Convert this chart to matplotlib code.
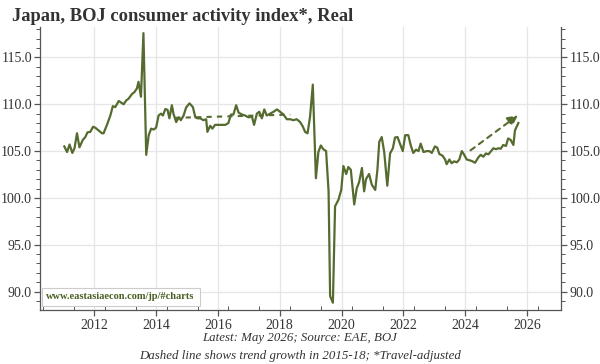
import matplotlib
matplotlib.use("Agg")
from matplotlib import pyplot, ticker

# decimal years as they sit on the chart's x axis, and index values
years = [2011.03, 2011.12, 2011.20, 2011.29, 2011.36, 2011.44, 2011.52, 2011.63, 2011.71, 2011.78,
         2011.87, 2011.96, 2012.03, 2012.14, 2012.25, 2012.30, 2012.41, 2012.52, 2012.60, 2012.68,
         2012.79, 2012.86, 2012.95, 2013.03, 2013.11, 2013.22, 2013.30, 2013.38, 2013.43, 2013.51,
         2013.59, 2013.68, 2013.76, 2013.84, 2013.92, 2014.00, 2014.08, 2014.16, 2014.22, 2014.30,
         2014.37, 2014.43, 2014.51, 2014.56, 2014.65, 2014.73, 2014.80, 2014.89, 2014.97, 2015.08,
         2015.19, 2015.27, 2015.34, 2015.43, 2015.53, 2015.62, 2015.66, 2015.75, 2015.82, 2015.91,
         2016.02, 2016.13, 2016.24, 2016.34, 2016.42, 2016.50, 2016.59, 2016.67, 2016.78, 2016.88,
         2016.99, 2017.10, 2017.17, 2017.26, 2017.34, 2017.42, 2017.50, 2017.58, 2017.69, 2017.80,
         2017.91, 2018.01, 2018.12, 2018.23, 2018.34, 2018.44, 2018.55, 2018.66, 2018.75, 2018.82,
         2018.90, 2018.98, 2019.07, 2019.17, 2019.25, 2019.33, 2019.41, 2019.50, 2019.58, 2019.63,
         2019.72, 2019.79, 2019.90, 2019.99, 2020.06, 2020.15, 2020.22, 2020.30, 2020.41, 2020.49,
         2020.57, 2020.66, 2020.73, 2020.79, 2020.89, 2020.98, 2021.09, 2021.16, 2021.22, 2021.30,
         2021.38, 2021.48, 2021.57, 2021.66, 2021.73, 2021.81, 2021.89, 2021.98, 2022.06, 2022.16,
         2022.24, 2022.32, 2022.41, 2022.49, 2022.56, 2022.65, 2022.76, 2022.84, 2022.92, 2023.02,
         2023.10, 2023.16, 2023.27, 2023.35, 2023.40, 2023.49, 2023.56, 2023.64, 2023.73, 2023.81,
         2023.89, 2023.96, 2024.05, 2024.16, 2024.24, 2024.32, 2024.42, 2024.50, 2024.59, 2024.67,
         2024.75, 2024.84, 2024.91, 2025.00, 2025.07, 2025.15, 2025.23, 2025.32, 2025.39, 2025.47,
         2025.56, 2025.61, 2025.67, 2025.72]
index = [105.5, 104.9, 105.7, 104.8, 105.3, 106.9, 105.4, 106.2, 106.5, 107.0,
         107.05, 107.6, 107.5, 107.2, 106.9, 106.9, 107.8, 108.8, 109.8, 109.7,
         110.35, 110.2, 110.0, 110.4, 110.6, 111.1, 111.3, 111.7, 112.4, 110.8,
         117.6, 104.6, 106.7, 107.4, 107.3, 107.5, 108.8, 109.0, 108.8, 109.5,
         109.4, 108.5, 109.9, 109.0, 108.1, 108.6, 108.3, 108.8, 109.65, 110.1,
         109.7, 108.6, 108.5, 108.5, 108.3, 108.4, 107.05, 107.7, 107.4, 107.8,
         107.8, 107.8, 107.8, 108.0, 108.9, 108.9, 109.9, 109.1, 108.9, 108.8,
         108.6, 108.7, 107.8, 109.0, 109.2, 108.5, 109.45, 108.8, 109.0, 109.2,
         109.45, 109.2, 108.9, 108.4, 108.4, 108.3, 108.4, 108.1, 107.6, 107.05,
         106.9, 108.65, 112.1, 102.1, 104.9, 105.6, 105.2, 105.0, 100.7, 89.5,
         88.8, 99.1, 99.8, 100.85, 103.4, 102.55, 103.3, 103.0, 99.3, 101.0,
         101.7, 103.2, 100.7, 102.0, 102.55, 101.4, 100.85, 103.0, 106.0, 106.5,
         104.9, 101.3, 104.75, 105.3, 106.45, 106.5, 105.8, 105.0, 106.7, 106.7,
         105.6, 104.8, 105.15, 105.0, 105.8, 104.9, 105.0, 105.0, 104.8, 105.5,
         105.35, 104.7, 104.5, 104.1, 103.6, 104.1, 103.7, 103.9, 103.8, 104.1,
         105.0, 104.65, 104.1, 104.0, 103.9, 103.75, 104.3, 104.6, 104.4, 104.75,
         104.65, 105.0, 105.3, 105.2, 105.3, 105.25, 105.65, 105.55, 106.35, 106.2,
         105.65, 107.2, 107.65, 108.0]

# trend lines (start, end)
trend1_years = [2014.62, 2018.34]
trend1_values = [108.55, 108.9]
trend2_years = [2024.10, 2025.78]
trend2_values = [104.9, 109.0]

xticks = [2012, 2014, 2016, 2018, 2020, 2022, 2024, 2026]
yticks = [90, 95, 100, 105, 110, 115]

green = "#556b2f"
textgray = "#333333"

pyplot.rcParams["font.family"] = ["Liberation Serif", "DejaVu Serif"]
fig = pyplot.figure(figsize=(6, 3.64), dpi=100)
ax = fig.add_axes([0.067, 0.149, 0.868, 0.778])

ax.plot(years, index, color=green, lw=1.6, zorder=3)
ax.plot(trend1_years, trend1_values, color=green, lw=1.5, ls=(0, (2.5, 2.5)), zorder=2)
ax.annotate("", xy=(trend2_years[1], trend2_values[1]), xytext=(trend2_years[0], trend2_values[0]),
            arrowprops=dict(arrowstyle="-|>,head_length=0.6,head_width=0.3", color=green,
                            lw=1.5, ls=(0, (2.5, 2.5))), zorder=2)

ax.set_xlim(2010.25, 2027.1)
ax.set_ylim(88.05, 118.3)

ax.set_xticks(xticks)
ax.set_xticks([y + 0.34 for y in range(2010, 2027)], minor=True)
ax.set_yticks(yticks)
ax.yaxis.set_minor_locator(ticker.MultipleLocator(1))
ax.yaxis.set_major_formatter(ticker.FormatStrFormatter("%.1f"))

ax.grid(True, which="major", color="#e6e6e6", lw=0.9, zorder=0)
ax.set_axisbelow(True)

for side in ["left", "right", "bottom"]:
    ax.spines[side].set_color("#555555")
    ax.spines[side].set_linewidth(0.9)
ax.spines["top"].set_visible(False)

ax.tick_params(axis="y", which="both", left=True, right=True, labelleft=True, labelright=True,
               colors="#555555", labelcolor=textgray, labelsize=10, direction="out")
ax.tick_params(axis="y", which="major", length=4, width=0.9, pad=2)
ax.tick_params(axis="y", which="minor", length=3, width=0.7)
ax.tick_params(axis="x", which="major", length=4, width=0.9, colors="#555555",
               labelcolor=textgray, labelsize=10, direction="out", pad=3)
ax.tick_params(axis="x", which="minor", length=3, width=0.7, colors="#555555", direction="in")

fig.text(0.02, 0.955, "Japan, BOJ consumer activity index*, Real", fontsize=13.3,
         fontweight="bold", color=textgray, ha="left", va="center")

ax.text(0.012, 0.03, "www.eastasiaecon.com/jp/#charts", transform=ax.transAxes,
        fontsize=7.5, fontweight="bold", color="#4a5e22", ha="left", va="bottom",
        bbox=dict(boxstyle="square,pad=0.45", fc="white", ec="#cccccc", lw=0.8), zorder=5)

fig.text(0.5, 0.071, "Latest: May 2026; Source: EAE, BOJ", fontsize=9.3, fontstyle="italic",
         color=textgray, ha="center", va="center")
fig.text(0.5, 0.022, "Dashed line shows trend growth in 2015-18; *Travel-adjusted", fontsize=9.3,
         fontstyle="italic", color=textgray, ha="center", va="center")

fig.savefig("out.png", dpi=100)
